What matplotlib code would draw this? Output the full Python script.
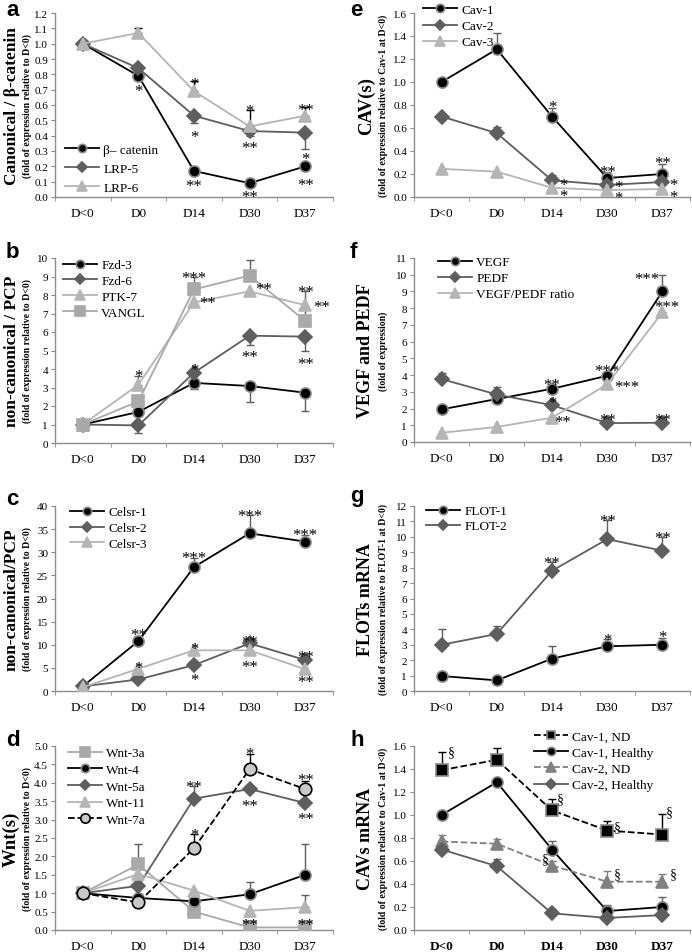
import matplotlib
matplotlib.use('Agg')
import matplotlib.pyplot as plt
import numpy as np

plt.rcParams['font.family'] = ['Liberation Serif', 'DejaVu Serif']

W, H = 692, 953
days = ['D<0', 'D0', 'D14', 'D30', 'D37']

# ---------------- data ----------------
# panel a
a_bcat = [1.0, 0.79, 0.17, 0.09, 0.20]
a_lrp5 = [1.0, 0.84, 0.53, 0.43, 0.42]
a_lrp5_dn = [0, 0, 0.05, 0.03, 0.11]
a_lrp6 = [1.0, 1.07, 0.69, 0.46, 0.53]
a_lrp6_up = [0, 0.035, 0.065, 0.11, 0.06]
a_stars = [(1, 0.72, '*'), (2, 0.77, '*'), (2, 0.42, '*'), (2, 0.10, '**'),
           (3, 0.59, '*'), (3, 0.35, '**'), (3, 0.03, '**'),
           (4, 0.60, '**'), (4, 0.28, '*'), (4, 0.11, '**')]

# panel e (stacked stars share one text, anchored at the lower star)
e_cav1 = [1.0, 1.285, 0.70, 0.165, 0.20]
e_cav1_up = [0, 0.145, 0.07, 0.05, 0.09]
e_cav2 = [0.70, 0.555, 0.145, 0.105, 0.13]
e_cav2_up = [0, 0.055, 0.045, 0, 0]
e_cav3 = [0.245, 0.22, 0.08, 0.06, 0.07]
e_stars = [(2, 0.82, '*'), (2.2, 0.05, '*\n*'),
           (3, 0.26, '**'), (3.2, 0.035, '*\n*'),
           (4, 0.34, '**'), (4.2, 0.045, '*\n*')]

# panel b
b_fzd3 = [1.0, 1.68, 3.25, 3.08, 2.72]
b_fzd3_dn = [0, 0, 0.35, 0.85, 0.97]
b_fzd6 = [1.0, 0.95, 3.8, 5.8, 5.75]
b_fzd6_dn = [0, 0.4, 0, 0.5, 0.8]
b_ptk7 = [1.0, 3.15, 7.6, 8.2, 7.45]
b_ptk7_up = [0, 0.45, 0, 0, 0]
b_vangl = [1.0, 2.25, 8.3, 9.05, 6.6]
b_vangl_up = [0, 0.3, 0.7, 0.85, 1.6]
b_stars = [(1, 3.9, '*'), (2, 9.2, '***'), (2.25, 7.8, '**'), (2, 4.2, '*'),
           (3, 10.2, '***'), (3.25, 8.6, '**'), (3, 4.9, '**'),
           (4, 8.4, '**'), (4.3, 7.6, '**'), (4, 4.5, '**')]

# panel f
f_vegf = [1.95, 2.57, 3.18, 3.96, 9.0]
f_vegf_up = [0, 0, 0, 0, 1.0]
f_pedf = [3.76, 2.84, 2.2, 1.13, 1.15]
f_pedf_up = [0.35, 0.45, 0, 0, 0]
f_ratio = [0.55, 0.9, 1.45, 3.45, 7.75]
f_ratio_dn = [0, 0, 0, 0, 0.3]
f_stars = [(2, 3.7, '**'), (2, 2.6, '*'), (2.2, 1.5, '**'),
           (3, 4.5, '***'), (3.35, 3.6, '***'), (3, 1.6, '**'),
           (3.72, 10.05, '***'), (4.07, 8.35, '***'), (4, 1.6, '**')]

# panel c
c_celsr1 = [1.0, 10.8, 26.8, 34.1, 32.3]
c_celsr1_up = [0, 1.2, 2.0, 4.0, 1.5]
c_celsr2 = [1.0, 2.5, 5.6, 10.3, 6.7]
c_celsr3 = [0.8, 4.8, 8.8, 8.8, 4.7]
c_stars = [(1, 13.1, '**'), (1, 5.9, '*'), (2, 29.7, '***'), (2, 10.1, '*'),
           (2, 3.4, '*'), (3, 38.9, '***'), (3, 11.7, '**'), (3, 6.3, '**'),
           (4, 34.7, '***'), (4, 8.4, '**'), (4, 2.9, '**')]

# panel g
g_flot1 = [0.97, 0.69, 2.1, 2.9, 3.0]
g_flot1_up = [0, 0, 0.8, 0.45, 0.45]
g_flot2 = [3.0, 3.7, 7.8, 9.85, 9.1]
g_flot2_up = [1.0, 0.5, 0.6, 1.25, 0.9]
g_stars = [(2, 8.6, '**'), (3, 11.35, '**'), (4, 10.25, '**'),
           (3, 3.6, '*'), (4, 3.8, '*')]

# panel d
d_wnt3a = [1.0, 1.78, 0.5, 0.07, 0.07]
d_wnt3a_up = [0, 0.57, 0, 0, 0]
d_wnt4 = [1.0, 0.87, 0.78, 0.97, 1.5]
d_wnt4_up = [0, 0, 0, 0.33, 0.85]
d_wnt5a = [1.0, 1.2, 3.57, 3.83, 3.45]
d_wnt5a_up = [0, 0, 0.35, 0, 0]
d_wnt11 = [1.0, 1.52, 1.07, 0.52, 0.62]
d_wnt11_up = [0, 0, 0, 0, 0.32]
d_wnt7a = [1.0, 0.75, 2.22, 4.37, 3.83]
d_wnt7a_up = [0, 0, 0.38, 0.4, 0.22]
d_stars = [(2, 4.02, '**'), (2, 2.7, '*'), (3, 4.9, '*'), (3, 3.5, '**'),
           (3, 0.27, '**'), (4, 4.2, '**'), (4, 3.14, '**'), (4, 0.27, '**')]

# panel h
h_cav1nd = [1.39, 1.48, 1.04, 0.865, 0.83]
h_cav1nd_up = [0.155, 0.10, 0.10, 0.085, 0.18]
h_cav1h = [1.0, 1.285, 0.70, 0.165, 0.20]
h_cav1h_up = [0, 0, 0.075, 0.055, 0.09]
h_cav2nd = [0.77, 0.75, 0.56, 0.42, 0.42]
h_cav2nd_up = [0.06, 0.04, 0.04, 0.09, 0.07]
h_cav2h = [0.70, 0.555, 0.145, 0.105, 0.13]
h_cav2h_up = [0, 0.065, 0.04, 0, 0]
h_marks = [(0.17, 1.55), (2.15, 1.14), (3.18, 0.90), (4.13, 1.03),
           (1.87, 0.62), (3.18, 0.49), (4.2, 0.49)]

# ---------------- styling ----------------
BLACK = '#000000'
DARK = '#5e5e5e'
LIGHT = '#b5b5b5'
SQR = '#a9a9a9'
SPINE = '#8c8c8c'
RING = '#8a8a8a'

fig = plt.figure(figsize=(W / 100, H / 100), dpi=100)


def make_ax(l, t, r, b):
    return fig.add_axes([l / W, 1 - b / H, (r - l) / W, (b - t) / H])


def style_ax(ax, ymax, step, fmt, bold_x=False):
    ax.set_xlim(-0.5, 4.5)
    ax.set_ylim(0, ymax)
    ticks = np.arange(0, ymax + step / 2, step)
    ax.set_yticks(ticks)
    ax.set_yticklabels([fmt.format(v) for v in ticks], fontsize=8)
    ax.set_xticks(range(5))
    ax.set_xticklabels(days, fontsize=9.5,
                       fontweight='bold' if bold_x else 'normal')
    ax.set_xticks(np.arange(-0.5, 5, 1), minor=True)
    ax.tick_params(axis='x', which='major', length=0, pad=7)
    ax.tick_params(axis='x', which='minor', length=3, color=SPINE)
    ax.tick_params(axis='y', length=3, color=SPINE, pad=2)
    for s in ['top', 'right']:
        ax.spines[s].set_visible(False)
    for s in ['left', 'bottom']:
        ax.spines[s].set_color(SPINE)
        ax.spines[s].set_linewidth(1.0)


def series(ax, y, label, color, marker, ms, mfc=None, mec=None, up=None,
           dn=None, ls='-', ecolor=None):
    x = np.arange(len(y))
    if up is not None or dn is not None:
        u = np.array(up if up is not None else [0] * len(y))
        d = np.array(dn if dn is not None else [0] * len(y))
        ec = ecolor if ecolor else color
        for xi, yi, ui, di in zip(x, y, u, d):
            if ui > 0:
                ax.errorbar([xi], [yi], yerr=[[0], [ui]], fmt='none', ecolor=ec,
                            capsize=3, elinewidth=1, capthick=1, zorder=2)
            if di > 0:
                ax.errorbar([xi], [yi], yerr=[[di], [0]], fmt='none', ecolor=ec,
                            capsize=3, elinewidth=1, capthick=1, zorder=2)
    ax.plot(x, y, ls=ls, color=color, marker=marker, ms=ms,
            mfc=mfc if mfc else color, mec=mec if mec else color, mew=1.2,
            lw=1.3, label=label, zorder=3)


def stars(ax, items, fs=12):
    for x, y, s in items:
        ax.annotate(s, (x, y), xytext=(0, -6.3),
                    textcoords='offset points', ha='center', va='baseline',
                    fontsize=fs, zorder=5, linespacing=0.6)


def ylabels(ax, main, sub, off_main=43, off_sub=28, fs_main=12.5):
    bb = ax.get_position()
    xm = bb.x0 - off_main / W
    xs = bb.x0 - off_sub / W
    yc = bb.y0 + bb.height / 2
    fig.text(xm, yc, main, rotation=90, ha='center', va='center',
             fontsize=fs_main, fontweight='bold')
    fig.text(xs, yc, sub, rotation=90, ha='center', va='center',
             fontsize=7, fontweight='bold')


def legend(ax, x, y, spacing=0.25, hl=2.6):
    ax.legend(loc='upper left', bbox_to_anchor=(x, y), frameon=False,
              fontsize=9.5, handlelength=hl, handletextpad=0.3,
              labelspacing=spacing, borderpad=0, borderaxespad=0,
              markerscale=0.75)


def panel_letter(x, base, s):
    fig.text(x / W, 1 - base / H, s, fontsize=16, fontweight='bold',
             family='Liberation Sans', ha='left', va='baseline')


# ---------- panel a ----------
ax = make_ax(55, 14, 333, 198)
style_ax(ax, 1.2, 0.1, '{:.1f}')
series(ax, a_bcat, 'β– catenin', BLACK, 'o', 8, mec=RING)
series(ax, a_lrp5, 'LRP-5', DARK, 'D', 7, dn=a_lrp5_dn)
series(ax, a_lrp6, 'LRP-6', LIGHT, '^', 9, up=a_lrp6_up, ecolor=BLACK)
stars(ax, a_stars)
legend(ax, 0.036, 0.29, spacing=0.5)
ylabels(ax, 'Canonical / β-catenin', '(fold of expression relative to D<0)')
panel_letter(6, 16, 'a')

# ---------- panel e ----------
ax = make_ax(414, 14, 690, 198)
style_ax(ax, 1.6, 0.2, '{:.1f}')
series(ax, e_cav1, 'Cav-1', BLACK, 'o', 8, mec=RING, up=e_cav1_up, ecolor=DARK)
series(ax, e_cav2, 'Cav-2', DARK, 'D', 7, up=e_cav2_up)
series(ax, e_cav3, 'Cav-3', LIGHT, '^', 9)
stars(ax, e_stars)
legend(ax, 0.033, 1.05, spacing=0.3)
ylabels(ax, 'CAV(s)', '(fold of expression relative to Cav-1 at D<0)',
        off_main=48, off_sub=31, fs_main=13.5)
panel_letter(350, 16, 'e')

# ---------- panel b ----------
ax = make_ax(55, 259, 333, 444)
style_ax(ax, 10, 1, '{:.0f}')
series(ax, b_fzd3, 'Fzd-3', BLACK, 'o', 8, mec=RING, dn=b_fzd3_dn, ecolor=DARK)
series(ax, b_fzd6, 'Fzd-6', DARK, 'D', 7, dn=b_fzd6_dn)
series(ax, b_ptk7, 'PTK-7', LIGHT, '^', 9, up=b_ptk7_up, ecolor=DARK)
series(ax, b_vangl, 'VANGL', SQR, 's', 9, up=b_vangl_up, ecolor=DARK)
stars(ax, b_stars)
legend(ax, 0.029, 0.995, spacing=0.28)
ylabels(ax, 'non-canonical / PCP', '(fold of expression relative to D<0)')
panel_letter(6, 258, 'b')

# ---------- panel f ----------
ax = make_ax(414, 259, 690, 443)
style_ax(ax, 11, 1, '{:.0f}')
series(ax, f_vegf, 'VEGF', BLACK, 'o', 8, mec=RING, up=f_vegf_up, ecolor=DARK)
series(ax, f_pedf, 'PEDF', DARK, 'D', 7, up=f_pedf_up)
series(ax, f_ratio, 'VEGF/PEDF ratio', LIGHT, '^', 9, dn=f_ratio_dn, ecolor=DARK)
stars(ax, f_stars)
legend(ax, 0.087, 1.01, spacing=0.28)
ylabels(ax, 'VEGF and PEDF', '(fold of expression)', off_main=48, off_sub=31,
        fs_main=13)
panel_letter(350, 258, 'f')

# ---------- panel c ----------
ax = make_ax(55, 507, 333, 692)
style_ax(ax, 40, 5, '{:.0f}')
series(ax, c_celsr1, 'Celsr-1', BLACK, 'o', 8, mec=RING, up=c_celsr1_up, ecolor=DARK)
series(ax, c_celsr2, 'Celsr-2', DARK, 'D', 7)
series(ax, c_celsr3, 'Celsr-3', LIGHT, '^', 9)
stars(ax, c_stars)
legend(ax, 0.054, 1.0, spacing=0.28)
ylabels(ax, 'non-canonical/PCP', '(fold of expression relative to D<0)')
panel_letter(6, 505, 'c')

# ---------- panel g ----------
ax = make_ax(414, 507, 690, 692)
style_ax(ax, 12, 1, '{:.0f}')
series(ax, g_flot1, 'FLOT-1', BLACK, 'o', 8, mec=RING, up=g_flot1_up, ecolor=DARK)
series(ax, g_flot2, 'FLOT-2', DARK, 'D', 7, up=g_flot2_up)
stars(ax, g_stars)
legend(ax, 0.043, 1.005, spacing=0.2)
ylabels(ax, 'FLOTs mRNA', '(fold of expression relative to FLOT-1 at D<0)',
        off_main=48, off_sub=31, fs_main=13)
panel_letter(350, 502, 'g')

# ---------- panel d ----------
ax = make_ax(55, 747, 333, 931)
style_ax(ax, 5.0, 0.5, '{:.1f}')
series(ax, d_wnt3a, 'Wnt-3a', SQR, 's', 9, up=d_wnt3a_up, ecolor=DARK)
series(ax, d_wnt4, 'Wnt-4', BLACK, 'o', 8, mec=RING, up=d_wnt4_up, ecolor=DARK)
series(ax, d_wnt5a, 'Wnt-5a', DARK, 'D', 7, up=d_wnt5a_up)
series(ax, d_wnt11, 'Wnt-11', LIGHT, '^', 9, up=d_wnt11_up, ecolor=DARK)
series(ax, d_wnt7a, 'Wnt-7a', BLACK, 'o', 9, mfc='#c8c8c8', mec=BLACK,
       up=d_wnt7a_up, ls='--')
stars(ax, d_stars)
legend(ax, 0.047, 0.995, spacing=0.34)
ylabels(ax, 'Wnt(s)', '(fold of expression relative to D<0)', off_main=44,
        off_sub=28, fs_main=13.5)
panel_letter(6, 746, 'd')

# ---------- panel h ----------
ax = make_ax(414, 747, 690, 931)
style_ax(ax, 1.6, 0.2, '{:.1f}', bold_x=True)
series(ax, h_cav1nd, 'Cav-1, ND', BLACK, 's', 8, mec=RING, up=h_cav1nd_up, ls='--')
series(ax, h_cav1h, 'Cav-1, Healthy', BLACK, 'o', 8, mec=RING, up=h_cav1h_up, ecolor=DARK)
series(ax, h_cav2nd, 'Cav-2, ND', '#808080', '^', 9, up=h_cav2nd_up, ls='--')
series(ax, h_cav2h, 'Cav-2, Healthy', DARK, 'D', 7, up=h_cav2h_up)
for x, y in h_marks:
    ax.text(x, y, '§', ha='center', va='center', fontsize=10)
legend(ax, 0.435, 1.085, spacing=0.3)
ylabels(ax, 'CAVs mRNA', '(fold of expression relative to Cav-1 at D<0)',
        off_main=48, off_sub=31, fs_main=13)
panel_letter(350, 746, 'h')

fig.savefig('out.png', dpi=100)
